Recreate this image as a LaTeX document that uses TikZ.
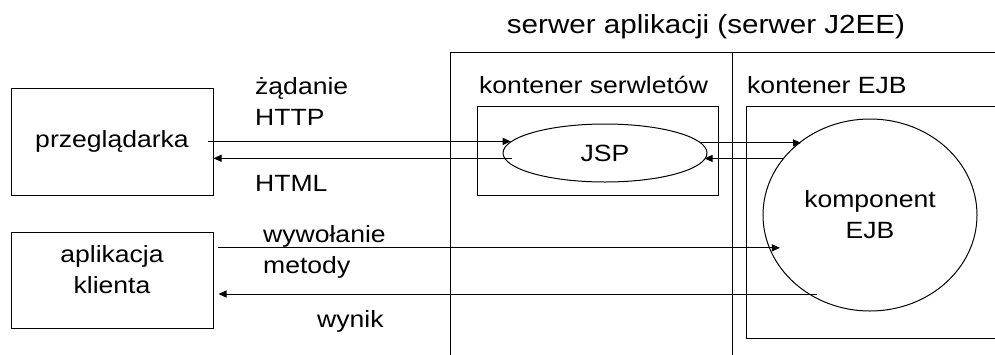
\documentclass[tikz,border=0pt]{standalone}
\usepackage{fontspec}
\setmainfont{Liberation Sans}[FakeStretch=1.13]
\usepackage{tikz}
\usetikzlibrary{arrows.meta,shapes.geometric}

\begin{document}
\begin{tikzpicture}[
    x=1pt, y=-1pt, % 一个单位 = 一个像素, y 向下
    font=\fontsize{23.5}{31}\selectfont,
    box/.style={draw, line width=1pt, inner sep=0pt},
    lbl/.style={inner sep=0pt, anchor=base west},
    arr/.style={-{Triangle[length=8pt, width=7pt]}, line width=1pt}
    ]
    % --- 画布范围 ---
    \def\W{995} \def\H{354}
    \path[use as bounding box] (0,0) rectangle (\W,\H);
    \clip (0,0) rectangle (\W,\H);

    % 1. 左侧的客户端
    \node[box, minimum width=202, minimum height=107] (przegl) at (112,141.5) {przeglądarka};
    \node[box, minimum width=202, minimum height=96] (klient) at (112,280) {};
    \node[align=center, inner sep=0pt] (klientTxt) at (112,270) {aplikacja\\klienta};

    % 2. 应用服务器
    \node[box, anchor=north west, minimum width=600, minimum height=340] (serwer) at (450,52) {};
    \draw[line width=1pt] (732,52) -- (732,\H+10);
    \node[inner sep=0pt, anchor=base] (serwerTxt) at (706,33)
        {\fontsize{26.2}{31}\selectfont serwer aplikacji (serwer J2EE)};

    % 3. 两个容器
    \node[box, anchor=north west, minimum width=241, minimum height=89] (serwlety) at (477,106) {};
    \node[box, anchor=north west, minimum width=300, minimum height=232] (kontEjb) at (746,106) {};
    \node[lbl] (serwletyTxt) at (479,93) {kontener serwletów};
    \node[lbl] (kontEjbTxt) at (747,93) {kontener EJB};

    % 4. JSP 和 EJB 组件
    \node[draw, ellipse, line width=1pt, inner sep=0pt,
          minimum width=204, minimum height=58] (jsp) at (605,153) {JSP};
    \node[draw, ellipse, line width=1pt, inner sep=0pt, align=center,
          minimum width=214, minimum height=192] (ejb) at (870,215) {komponent\\EJB};

    % 5. 请求与响应
    \coordinate (zadStart) at (jsp.173.35 -| przegl.east);
    \draw[arr] ([xshift=-6]zadStart) -- (jsp.173.35);
    \coordinate (htmlStart) at ([xshift=8]jsp.183.44);
    \draw[arr] (htmlStart) -- (htmlStart -| przegl.east);
    \draw[arr] (jsp.6.65) -- (jsp.6.65 -| ejb.133.6);
    \draw[arr] (ejb.147.2) -- (ejb.147.2 -| jsp.356.56);
    \coordinate (wywEnd) at ([xshift=11]ejb.198.76);
    \draw[arr] ([xshift=4]wywEnd -| klient.east) -- (wywEnd);
    \coordinate (wynStart) at ([xshift=9]ejb.232.4);
    \draw[arr] (wynStart) -- ([xshift=5]wynStart -| klient.east);

    % 6. 连线上的文字
    \node[inner sep=0pt, anchor=west, align=left] (zadTxt) at (255,101) {żądanie\\HTTP};
    \node[lbl] (htmlTxt) at (255,191) {HTML};
    \node[inner sep=0pt, anchor=west, align=left] (wywTxt) at (263,252.4) {wywołanie\\metody};
    \node[lbl] (wynTxt) at (317,327) {wynik};
\end{tikzpicture}
\end{document}
